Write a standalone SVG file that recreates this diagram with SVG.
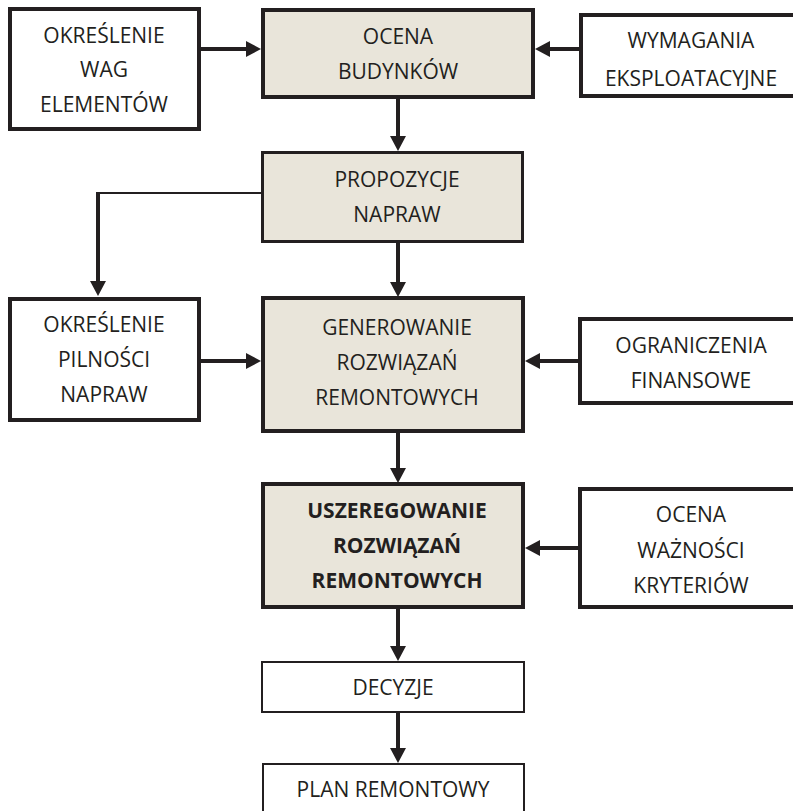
<svg xmlns="http://www.w3.org/2000/svg" width="793" height="811" viewBox="0 0 793 811">
<defs>
<style>
.box{fill:#ffffff;stroke:#231f20;stroke-width:4}
.shade{fill:#e9e5da}
.thin{stroke-width:3}
.hair{stroke-width:2}
text{font-family:"Open Sans","Noto Sans","Liberation Sans",sans-serif;font-size:21px;fill:#231f20;text-anchor:middle}
.b{font-weight:bold}
.c{fill:none;stroke:#231f20;stroke-width:4}
.c2{fill:none;stroke:#231f20;stroke-width:2}
</style>
<marker id="ah" markerUnits="userSpaceOnUse" markerWidth="16" markerHeight="18" refX="0" refY="8" orient="auto" viewBox="0 0 16 16">
<path d="M0,0 L15,8 L0,16 Z" fill="#231f20"/>
</marker>
</defs>
<rect width="793" height="811" fill="#ffffff"/>
<g id="connectors">
<line class="c" x1="201" y1="49" x2="246" y2="49" marker-end="url(#ah)"/>
<line class="c" x1="579" y1="49" x2="550" y2="49" marker-end="url(#ah)"/>
<line class="c" x1="398" y1="99" x2="398" y2="136" marker-end="url(#ah)"/>
<polyline class="c2" points="261,193 98,193 98,194"/>
<line class="c" x1="98" y1="192" x2="98" y2="281" marker-end="url(#ah)"/>
<line class="c" x1="398" y1="243" x2="398" y2="282" marker-end="url(#ah)"/>
<line class="c" x1="200" y1="361" x2="246" y2="361" marker-end="url(#ah)"/>
<line class="c" x1="579" y1="361" x2="540" y2="361" marker-end="url(#ah)"/>
<line class="c" x1="398" y1="433" x2="398" y2="468" marker-end="url(#ah)"/>
<line class="c" x1="579" y1="548" x2="540" y2="548" marker-end="url(#ah)"/>
<line class="c" x1="398" y1="609" x2="398" y2="646" marker-end="url(#ah)"/>
<line class="c" x1="398" y1="713" x2="398" y2="748" marker-end="url(#ah)"/>
</g>
<g id="n-wagi">
<rect class="box" x="10" y="9" width="189" height="120"/>
<text x="104" y="43">OKREŚLENIE</text>
<text x="104" y="77">WAG</text>
<text x="104" y="112">ELEMENTÓW</text>
</g>
<g id="n-ocena">
<rect class="box shade" x="263" y="10" width="270" height="87"/>
<text x="398" y="44">OCENA</text>
<text x="398" y="79">BUDYNKÓW</text>
</g>
<g id="n-wymagania">
<rect class="box" x="581" y="15" width="240" height="81"/>
<text x="691" y="48">WYMAGANIA</text>
<text x="691" y="86">EKSPLOATACYJNE</text>
</g>
<g id="n-propozycje">
<rect class="box shade thin" x="262.5" y="152.5" width="260" height="89"/>
<text x="397" y="187">PROPOZYCJE</text>
<text x="397" y="222">NAPRAW</text>
</g>
<g id="n-pilnosc">
<rect class="box" x="10" y="299" width="189" height="121"/>
<text x="104" y="332">OKREŚLENIE</text>
<text x="104" y="367">PILNOŚCI</text>
<text x="104" y="402">NAPRAW</text>
</g>
<g id="n-generowanie">
<rect class="box shade" x="263" y="298" width="260" height="133"/>
<text x="397" y="335">GENEROWANIE</text>
<text x="397" y="370">ROZWIĄZAŃ</text>
<text x="397" y="405">REMONTOWYCH</text>
</g>
<g id="n-ograniczenia">
<rect class="box" x="580" y="319" width="240" height="84"/>
<text x="691" y="353">OGRANICZENIA</text>
<text x="691" y="388">FINANSOWE</text>
</g>
<g id="n-uszeregowanie">
<rect class="box shade" x="263" y="484" width="260" height="123"/>
<text class="b" x="397" y="518">USZEREGOWANIE</text>
<text class="b" x="397" y="553">ROZWIĄZAŃ</text>
<text class="b" x="397" y="588">REMONTOWYCH</text>
</g>
<g id="n-waznosc">
<rect class="box" x="580" y="489" width="240" height="118"/>
<text x="691" y="522">OCENA</text>
<text x="691" y="558">WAŻNOŚCI</text>
<text x="691" y="593">KRYTERIÓW</text>
</g>
<g id="n-decyzje">
<rect class="box hair" x="262" y="662" width="262" height="50"/>
<text x="393" y="695">DECYZJE</text>
</g>
<g id="n-plan">
<rect class="box hair" x="263" y="764" width="261" height="80"/>
<text x="393" y="797">PLAN REMONTOWY</text>
</g>
</svg>
